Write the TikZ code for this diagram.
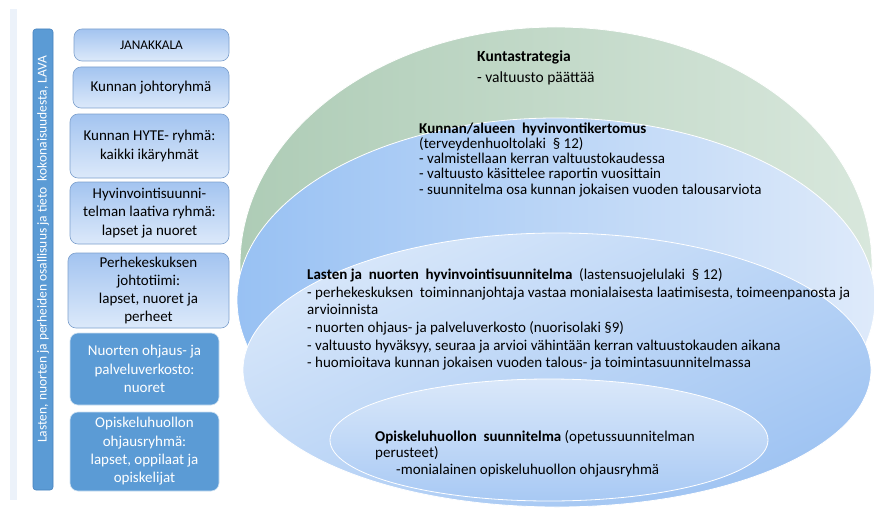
\documentclass[tikz,border=0pt]{standalone}
\usepackage{fontspec}
\setmainfont{Carlito}
\definecolor{barblue}{RGB}{91,155,213}
\definecolor{barborder}{RGB}{70,130,190}
\definecolor{stripbg}{RGB}{236,242,250}
\definecolor{boxtop}{RGB}{163,196,240}
\definecolor{boxbot}{RGB}{220,233,250}
\definecolor{boxborder}{RGB}{125,160,205}
\definecolor{greenL}{RGB}{174,204,182}
\definecolor{greenR}{RGB}{216,231,220}
\definecolor{blueAL}{RGB}{152,193,243}
\definecolor{blueAR}{RGB}{222,234,250}
\definecolor{blueBT}{RGB}{216,231,250}
\definecolor{blueBB}{RGB}{158,195,242}
\definecolor{blueCT}{RGB}{218,232,250}
\definecolor{blueCB}{RGB}{168,201,244}
\tikzset{
  lightbox/.style={rounded corners=8pt, draw=boxborder, line width=0.6pt,
    top color=boxtop, bottom color=boxbot, align=center, inner sep=0pt,
    font=\fontsize{15}{18.3}\selectfont, text=black},
  darkbox/.style={rounded corners=8pt, draw=white!70!barblue, line width=0.6pt,
    fill=barblue, align=center, inner sep=0pt,
    font=\fontsize{15}{18.3}\selectfont, text=white},
  etext/.style={anchor=north west, align=left, inner sep=0pt,
    font=\fontsize{15}{15.2}\selectfont, text=black},
  ell/.style={draw=white, line width=0.8pt}
}
\begin{document}
\begin{tikzpicture}[x=1pt,y=-1pt]
\useasboundingbox (0,0) rectangle (874,508);
\fill[white] (0,0) rectangle (874,508);
\fill[stripbg] (10,9) rectangle (17,500);

% nested ellipses
\shade[ell, left color=greenL, right color=greenR] (556,265) ellipse [x radius=316pt, y radius=238pt];
\shade[ell, left color=blueAL, right color=blueAR] (556,300) ellipse [x radius=319pt, y radius=182pt];
\shade[ell, shading=axis, top color=blueBT, bottom color=blueBB, shading angle=25] (557,370) ellipse [x radius=314pt, y radius=137pt];
\shade[ell, shading=axis, top color=blueCT, bottom color=blueCB] (549,440) ellipse [x radius=219pt, y radius=61pt];

% texts in ellipses
\node[etext, font=\fontsize{15.5}{21}\selectfont] (tks) at (477,50)
  {\textbf{Kuntastrategia}\\- valtuusto päättää};
\node[etext] (thk) at (419,122.5)
  {\textbf{Kunnan/alueen\ \ hyvinvontikertomus}\\
   (terveydenhuoltolaki \ § 12)\\
   - valmistellaan kerran valtuustokaudessa\\
   - valtuusto käsittelee raportin vuosittain\\
   - suunnitelma osa kunnan jokaisen vuoden talousarviota};
\node[etext, font=\fontsize{15}{17.6}\selectfont] (tln) at (307,268.5)
  {\textbf{Lasten ja\ \ nuorten\ \ hyvinvointisuunnitelma}\ \ (lastensuojelulaki \ § 12)\\
   - perhekeskuksen\ \ toiminnanjohtaja vastaa monialaisesta laatimisesta, toimeenpanosta ja\\
   arvioinnista\\
   - nuorten ohjaus- ja palveluverkosto (nuorisolaki §9)\\
   - valtuusto hyväksyy, seuraa ja arvioi vähintään kerran valtuustokauden aikana\\
   - huomioitava kunnan jokaisen vuoden talous- ja toimintasuunnitelmassa};
\node[etext, font=\fontsize{15}{16.5}\selectfont] (top) at (375,430.3)
  {\textbf{Opiskeluhuollon\ \ suunnitelma}\ (opetussuunnitelman\\
   perusteet)\\
   \hspace*{21pt}-monialainen opiskeluhuollon ohjausryhmä};

% vertical bar
\node[rounded corners=3pt, draw=barborder, line width=0.6pt, fill=barblue,
  minimum width=20pt, minimum height=461pt, inner sep=0pt] (bar) at (43,259.5) {};
\node[rotate=90, text=white, inner sep=0pt, font=\fontsize{13.5}{15}\selectfont] (bartext) at (43,249)
  {Lasten, nuorten ja perheiden osallisuus ja tieto\ \ kokonaisuudesta, LAVA};

% boxes
\node[lightbox, minimum width=155pt, minimum height=32pt, font=\fontsize{13.3}{15}\selectfont] (b1) at (151.5,45) {JANAKKALA};
\node[lightbox, minimum width=156pt, minimum height=41pt] (b2) at (151,87.5) {Kunnan johtoryhmä};
\node[lightbox, minimum width=159pt, minimum height=64pt] (b3) at (149.5,146) {Kunnan HYTE- ryhmä:\\kaikki ikäryhmät};
\node[lightbox, minimum width=159pt, minimum height=62pt] (b4) at (149.5,213) {Hyvinvointisuunni-\\telman laativa ryhmä:\\lapset ja nuoret};
\node[lightbox, minimum width=161pt, minimum height=75pt] (b5) at (148.5,290.5) {Perhekeskuksen\\johtotiimi:\\lapset, nuoret ja\\perheet};
\node[darkbox, minimum width=149pt, minimum height=72pt] (b6) at (144.5,369) {Nuorten ohjaus- ja\\palveluverkosto:\\nuoret};
\node[darkbox, minimum width=149pt, minimum height=79pt] (b7) at (144.5,451.5) {Opiskeluhuollon\\ohjausryhmä:\\lapset, oppilaat ja\\opiskelijat};
\end{tikzpicture}
\end{document}
